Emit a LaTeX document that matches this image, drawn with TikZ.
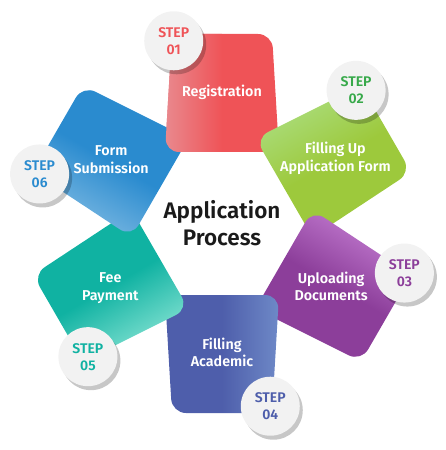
\documentclass[tikz,border=0pt]{standalone}
\usepackage{fontspec}
\setmainfont{Fira Sans}[BoldFont={Fira Sans SemiBold}]
\usepackage[HTML]{xcolor}
\usepackage{tikz}
\usetikzlibrary{shadows}

\definecolor{regdark}{HTML}{EF5357}
\definecolor{reglight}{HTML}{E9898E}
\definecolor{formdark}{HTML}{9DC93C}
\definecolor{formlight}{HTML}{ABDE80}
\definecolor{formstep}{HTML}{37A94A}
\definecolor{docdark}{HTML}{8C3E9A}
\definecolor{doclight}{HTML}{C47DD2}
\definecolor{acaddark}{HTML}{4E5EAB}
\definecolor{acadlight}{HTML}{6E89C7}
\definecolor{feedark}{HTML}{10B2A2}
\definecolor{feelight}{HTML}{88E4D4}
\definecolor{subdark}{HTML}{2A8BCF}
\definecolor{sublight}{HTML}{80BBE3}
\definecolor{stepgray}{HTML}{F2F2F2}
\definecolor{titlegray}{HTML}{1A1A1A}

\begin{document}
\begin{tikzpicture}[x=1pt, y=1pt,
  piece/.style={rounded corners=14pt},
  piecetext/.style={text=white, align=center, font=\bfseries\fontsize{14.3}{17.7}\selectfont},
  stepcircle/.style={circle, fill=stepgray, minimum size=59pt, inner sep=0pt, align=center,
    font=\bfseries\fontsize{14}{17}\selectfont,
    drop shadow={shadow xshift=3pt, shadow yshift=-4pt, opacity=0.22, fill=black}}]
\useasboundingbox (-222,-226.5) rectangle (224,223.5);

% --- Registration ---
\begin{scope}[rotate=0]
\shade[piece, top color=reglight, bottom color=regdark, middle color=regdark, shading angle=90]
  (-57,71.5) -- (57,71.5) -- (50,189.5) -- (-50,189.5) -- cycle;
\end{scope}

% --- Filling Up Application Form ---
\begin{scope}[rotate=-60]
\shade[piece, top color=formlight, bottom color=formdark, middle color=formdark, shading angle=30]
  (-57,71.5) -- (57,71.5) -- (50,189.5) -- (-50,189.5) -- cycle;
\end{scope}

% --- Uploading Documents ---
\begin{scope}[rotate=-120]
\shade[piece, top color=doclight, bottom color=docdark, middle color=docdark, shading angle=-30]
  (-57,71.5) -- (57,71.5) -- (50,189.5) -- (-50,189.5) -- cycle;
\end{scope}

% --- Filling Academic ---
\begin{scope}[rotate=-180]
\shade[piece, top color=acadlight, bottom color=acaddark, middle color=acaddark, shading angle=-90]
  (-57,71.5) -- (57,71.5) -- (50,189.5) -- (-50,189.5) -- cycle;
\end{scope}

% --- Fee Payment ---
\begin{scope}[rotate=-240]
\shade[piece, top color=feelight, bottom color=feedark, middle color=feedark, shading angle=-150]
  (-57,71.5) -- (57,71.5) -- (50,189.5) -- (-50,189.5) -- cycle;
\end{scope}

% --- Form Submission ---
\begin{scope}[rotate=-300]
\shade[piece, top color=sublight, bottom color=subdark, middle color=subdark, shading angle=150]
  (-57,71.5) -- (57,71.5) -- (50,189.5) -- (-50,189.5) -- cycle;
\end{scope}

% --- Registration again, in front of Form Submission ---
\begin{scope}
\clip (-222,0) rectangle (0,223.5);
\shade[piece, top color=reglight, bottom color=regdark, middle color=regdark, shading angle=90]
  (-57,71.5) -- (57,71.5) -- (50,189.5) -- (-50,189.5) -- cycle;
\end{scope}

% --- texts ---
\node[piecetext] (reg) at (90:131) {Registration};
\node[piecetext] (form) at (30:131) {Filling Up\\Application Form};
\node[piecetext] (doc) at (-30:126) {Uploading\\Documents};
\node[piecetext] (acad) at (-90:129) {Filling\\Academic};
\node[piecetext] (fee) at (-150:129) {Fee\\Payment};
\node[piecetext] (sub) at (150:128) {Form\\Submission};

\node[font=\bfseries\fontsize{22.5}{27}\selectfont, text=titlegray, align=center] (title) at (0,0) {Application\\Process};

% --- step circles ---
\node[stepcircle, text=regdark] (step1) at (104.8:189) {STEP\\01};
\node[stepcircle, text=formstep] (step2) at (44.8:189) {STEP\\02};
\node[stepcircle, text=docdark] (step3) at (-15.2:189) {STEP\\03};
\node[stepcircle, text=acaddark] (step4) at (-75.2:189) {STEP\\04};
\node[stepcircle, text=feedark] (step5) at (-135.2:189) {STEP\\05};
\node[stepcircle, text=subdark] (step6) at (164.8:189) {STEP\\06};
\end{tikzpicture}
\end{document}
